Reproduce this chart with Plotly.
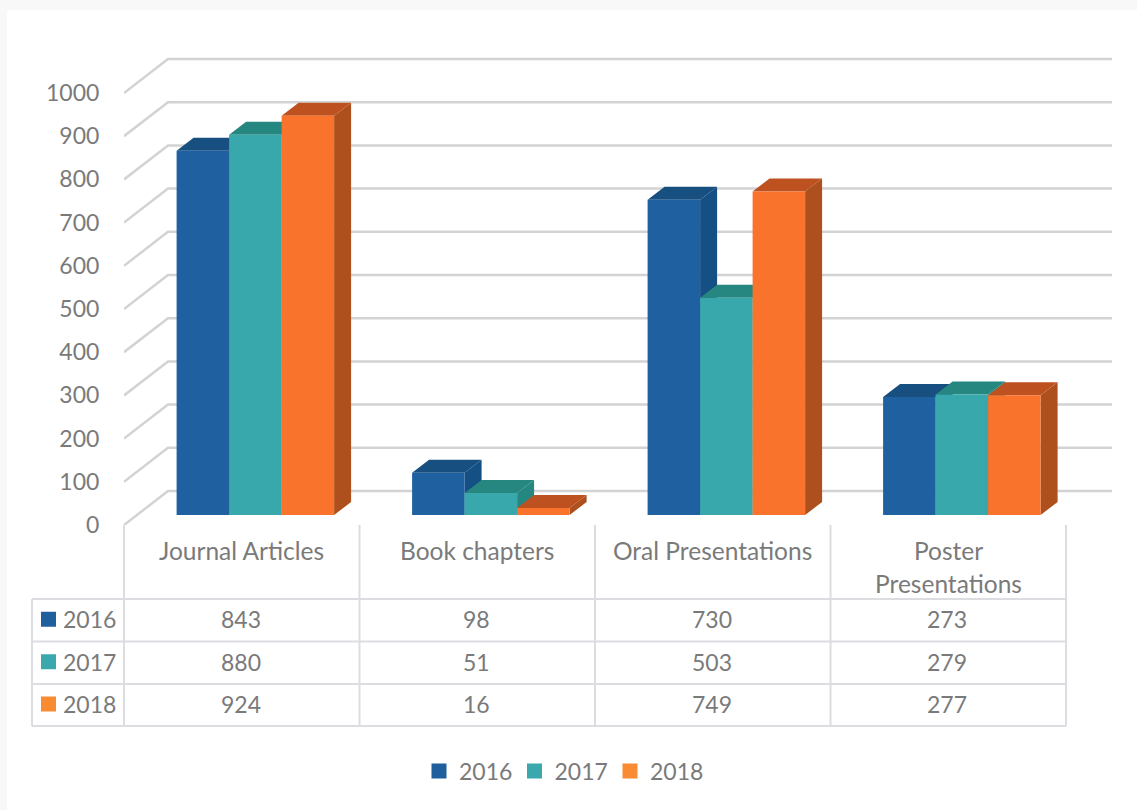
import plotly.graph_objects as go

# ---- data ----
categories = ["Journal Articles", "Book chapters", "Oral Presentations", "Poster<br>Presentations"]
years = ["2016", "2017", "2018"]
values_2016 = [843, 98, 730, 273]
values_2017 = [880, 51, 503, 279]
values_2018 = [924, 16, 749, 277]
y_ticks = [0, 100, 200, 300, 400, 500, 600, 700, 800, 900, 1000]

# ---- style / layout constants ----
W, H = 1137, 810
L, T, R, B = 124, 40, 1124, 525      # plot rectangle in px
CAT_PX = 235.5                       # px per category
Y_PX = 0.432                         # px per value unit
FONT = "Lato"
TXT = "#7a7a7a"
LINE = "#dcdde0"
GRID = "#d3d3d3"
front = ["#1f60a0", "#38a8ac", "#fa732d"]
top_c = ["#174f80", "#268680", "#bd5220"]
side_c = ["#155085", "#268680", "#ad501e"]
swatch = ["#1f5f9e", "#3ba8ad", "#f98b33"]
series = [values_2016, values_2017, values_2018]

BAR_W = 52.5 / CAT_PX
GROUP_LEFT = 52.6 / CAT_PX
BAR_BASE = 10 / Y_PX
BAR_DX, BAR_DY = 17 / CAT_PX, 13 / Y_PX
WALL_DX, WALL_DY = 44 / CAT_PX, 34 / Y_PX
X_END = (1112 - L) / CAT_PX


def px(x):
    return (x - L) / (R - L)


def py(y):
    return (B - y) / (B - T)


fig = go.Figure()

# back wall + side wall gridlines
gx, gy = [], []
for v in y_ticks:
    gx += [0, WALL_DX, X_END, None]
    gy += [v, v + WALL_DY, v + WALL_DY, None]
fig.add_trace(go.Scatter(x=gx, y=gy, mode="lines", line=dict(color=GRID, width=2.5),
                         hoverinfo="skip", showlegend=False, zorder=0))

# bars: top & side faces as polygons, front as real bars
for s, (name, vals) in enumerate(zip(years, series)):
    xs = [i + GROUP_LEFT + s * BAR_W for i in range(len(vals))]
    tx, ty, sx, sy = [], [], [], []
    for x0, v in zip(xs, vals):
        x1 = x0 + BAR_W
        t = BAR_BASE + v
        tx += [x0, x0 + BAR_DX, x1 + BAR_DX, x1, x0, None]
        ty += [t, t + BAR_DY, t + BAR_DY, t, t, None]
        sx += [x1, x1 + BAR_DX, x1 + BAR_DX, x1, x1, None]
        sy += [BAR_BASE, BAR_BASE + BAR_DY, t + BAR_DY, t, BAR_BASE, None]
    z = 1 + 2 * s
    fig.add_trace(go.Scatter(x=sx, y=sy, mode="lines", fill="toself", fillcolor=side_c[s],
                             line=dict(width=0), hoverinfo="skip", showlegend=False, zorder=z))
    fig.add_trace(go.Scatter(x=tx, y=ty, mode="lines", fill="toself", fillcolor=top_c[s],
                             line=dict(width=0), hoverinfo="skip", showlegend=False, zorder=z))
    fig.add_trace(go.Bar(x=[x + BAR_W / 2 for x in xs], y=vals, base=BAR_BASE, width=BAR_W,
                         marker=dict(color=front[s], line=dict(width=0)), name=name,
                         showlegend=False, legendgroup=name, zorder=z + 1))
    fig.add_trace(go.Scatter(x=[None], y=[None], mode="markers", name=name, legendgroup=name,
                             marker=dict(symbol="square", size=15, color=swatch[s]), showlegend=True))

shapes, ann = [], []
# white card behind everything
shapes.append(dict(type="rect", xref="paper", yref="paper", layer="below",
                   x0=px(7), x1=px(W), y0=py(H), y1=py(10),
                   fillcolor="white", line=dict(width=0)))


def hline(x0, x1, y):
    shapes.append(dict(type="line", xref="paper", yref="paper", x0=px(x0), x1=px(x1),
                       y0=py(y), y1=py(y), line=dict(color=LINE, width=2)))


def vline(x, y0, y1):
    shapes.append(dict(type="line", xref="paper", yref="paper", x0=px(x), x1=px(x),
                       y0=py(y0), y1=py(y1), line=dict(color=LINE, width=2)))


ROWS = [599, 641.5, 684, 726]
for y in ROWS:
    hline(32, L + 4 * CAT_PX, y)
vline(32, ROWS[0], ROWS[-1])
for i in range(5):
    vline(L + i * CAT_PX, B, ROWS[-1])


def text(x, y, s, size=23):
    ann.append(dict(xref="paper", yref="paper", x=px(x), y=py(y), text=s, showarrow=False,
                    xanchor="center", yanchor="middle", font=dict(family=FONT, size=size, color=TXT)))


CAT_SIZE = 24.5
for i, c in enumerate(categories):
    cx = L + (i + 0.5) * CAT_PX
    if "<br>" in c:
        a, b = c.split("<br>")
        text(cx, 550, a, CAT_SIZE)
        text(cx, 583, b, CAT_SIZE)
    else:
        text(cx, 550, c, CAT_SIZE)

for r, (name, vals) in enumerate(zip(years, series)):
    cy = (ROWS[r] + ROWS[r + 1]) / 2 - 1
    shapes.append(dict(type="rect", xref="paper", yref="paper", x0=px(41), x1=px(56),
                       y0=py(cy + 7.5), y1=py(cy - 7.5), fillcolor=swatch[r], line=dict(width=0)))
    text(89.5, cy, name)
    for i, v in enumerate(vals):
        text(L + (i + 0.5) * CAT_PX - 1, cy, str(v))

fig.update_layout(
    width=W, height=H, autosize=False,
    margin=dict(l=L, r=W - R, t=T, b=H - B),
    paper_bgcolor="#f8f8f8", plot_bgcolor="rgba(0,0,0,0)",
    barmode="overlay",
    shapes=shapes, annotations=ann,
    xaxis=dict(visible=False, range=[0, (R - L) / CAT_PX], fixedrange=True),
    yaxis=dict(range=[0, (B - T) / Y_PX], tickvals=y_ticks, ticktext=[str(v) for v in y_ticks],
               ticks="outside", ticklen=19, tickcolor="rgba(0,0,0,0)", showgrid=False, zeroline=False,
               showline=False, tickfont=dict(family=FONT, size=23, color=TXT), fixedrange=True),
    legend=dict(orientation="h", x=px(419), y=py(771), xanchor="left", yanchor="middle",
                font=dict(family=FONT, size=23, color=TXT), bgcolor="rgba(0,0,0,0)",
                entrywidth=50.5, entrywidthmode="pixels", itemclick=False, itemdoubleclick=False),
    showlegend=True,
)

fig.write_html("out.html", config={"displayModeBar": False},
               post_script="document.body.style.margin='0';document.body.style.overflow='hidden';")
